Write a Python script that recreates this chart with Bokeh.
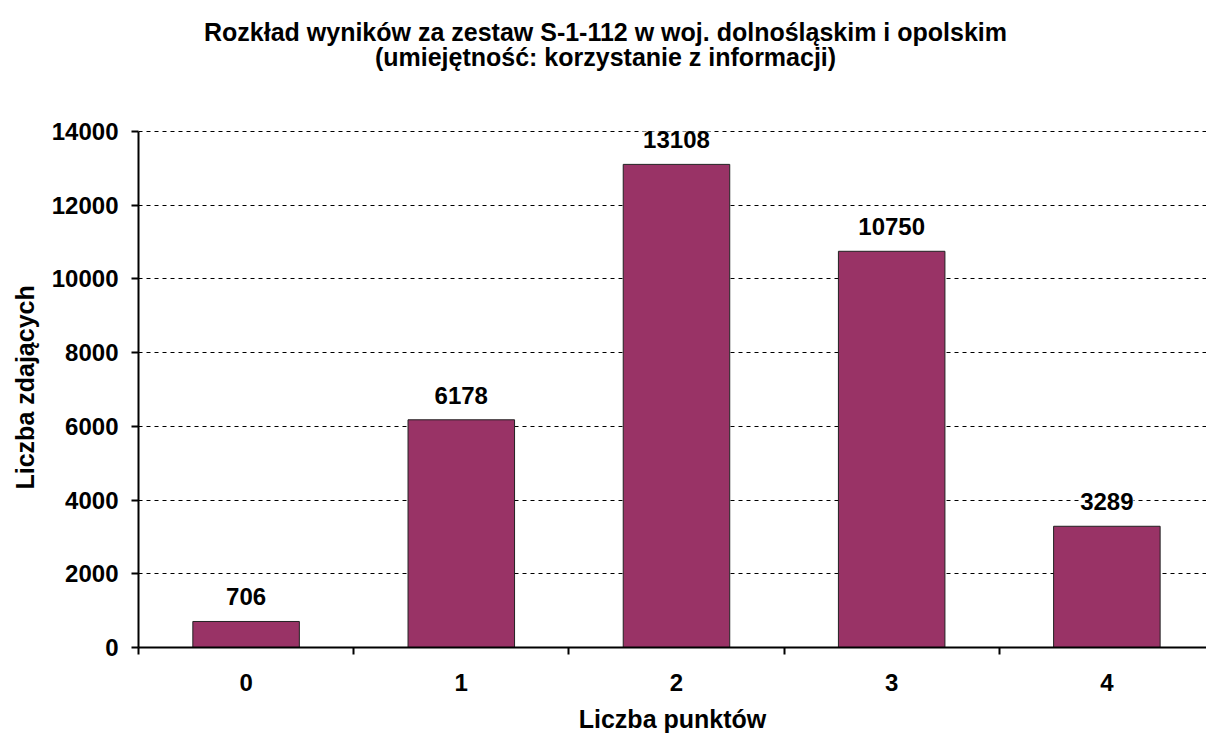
from bokeh.plotting import figure
from bokeh.models import ColumnDataSource, FixedTicker, Range1d, LabelSet, Label, Title
from bokeh.core.properties import value
from bokeh.embed import file_html
from bokeh.resources import INLINE

categories = [0, 1, 2, 3, 4]
tick_labels = ["0", "1", "2", "3", "4"]
counts = [706, 6178, 13108, 10750, 3289]
value_labels = [str(v) for v in counts]
y_ticks = [0, 2000, 4000, 6000, 8000, 10000, 12000, 14000]
title_line1 = "Rozkład wyników za zestaw S-1-112 w woj. dolnośląskim i opolskim"
title_line2 = "(umiejętność: korzystanie z informacji)"
x_title = "Liczba punktów"
y_title = "Liczba zdających"

src = ColumnDataSource(dict(x=categories, top=counts, lab=value_labels))

FONT = "Liberation Sans"
FS = "24px"
FS_T = "25px"

# frame spans the full height; the value axis itself stops at 14000
Y_TOP = 14000 * 647 / 516
p = figure(width=1206, height=735, output_backend="svg", toolbar_location=None,
           x_range=Range1d(-0.5, 4.463), y_range=Range1d(0, Y_TOP),
           min_border_left=138, min_border_right=0, min_border_top=0, min_border_bottom=88)
p.outline_line_color = None
p.background_fill_color = "white"
p.border_fill_color = "white"

# title lines (screen units, relative to the plot frame)
for txt, ys in ((title_line1, 616), (title_line2, 591)):
    p.add_layout(Label(x=467, y=ys, x_units="screen", y_units="screen", text=txt,
                       text_align="center", text_baseline="alphabetic",
                       text_font=FONT, text_font_size=FS_T,
                       text_font_style="bold", text_color="black"))

p.vbar(x="x", top="top", width=0.495, source=src, fill_color="#993366",
       line_color="#222222", line_width=1)

labels = LabelSet(x="x", y="top", text="lab", source=src, text_align="center",
                  text_baseline="alphabetic", y_offset=16, text_font=value(FONT),
                  text_font_size=FS, text_font_style="bold", text_color="black",
                  background_fill_color="white")
p.add_layout(labels)

# x axis
p.xaxis.ticker = FixedTicker(ticks=categories, minor_ticks=[-0.5, 0.5, 1.5, 2.5, 3.5, 4.5])
p.xaxis.major_label_overrides = {c: t for c, t in zip(categories, tick_labels)}
p.xaxis.major_tick_out = 0
p.xaxis.major_tick_in = 0
p.xaxis.minor_tick_out = 7
p.xaxis.minor_tick_in = 0
p.xaxis.minor_tick_line_color = "black"
p.xaxis.minor_tick_line_width = 2
p.xaxis.major_label_standoff = 19
p.xaxis.axis_label = x_title
p.xaxis.axis_label_standoff = 11

# y axis
p.yaxis.ticker = FixedTicker(ticks=y_ticks)
p.yaxis.bounds = (y_ticks[0], y_ticks[-1])
p.yaxis.major_tick_out = 7
p.yaxis.major_tick_in = 0
p.yaxis.minor_tick_line_color = None
p.yaxis.major_label_standoff = 13

for ax in (p.xaxis, p.yaxis):
    ax.axis_line_color = "black"
    ax.axis_line_width = 2
    ax.major_tick_line_color = "black"
    ax.major_tick_line_width = 2
    ax.major_label_text_font = FONT
    ax.major_label_text_font_size = FS
    ax.major_label_text_font_style = "bold"
    ax.major_label_text_color = "black"
    ax.axis_label_text_font = FONT
    ax.axis_label_text_font_size = FS_T
    ax.axis_label_text_font_style = "bold"
    ax.axis_label_text_color = "black"

# y-axis title, centred on the 0-14000 span rather than the whole frame
p.add_layout(Title(text=y_title, align="left", offset=158, vertical_align="middle",
                   standoff=18, text_font=FONT, text_font_size=FS_T,
                   text_font_style="bold", text_color="black"), "left")

p.xgrid.grid_line_color = None
p.ygrid.grid_line_color = "black"
p.ygrid.grid_line_dash = "4 4"
p.ygrid.grid_line_width = 1

open("out.html", "w").write(file_html(p, INLINE))
